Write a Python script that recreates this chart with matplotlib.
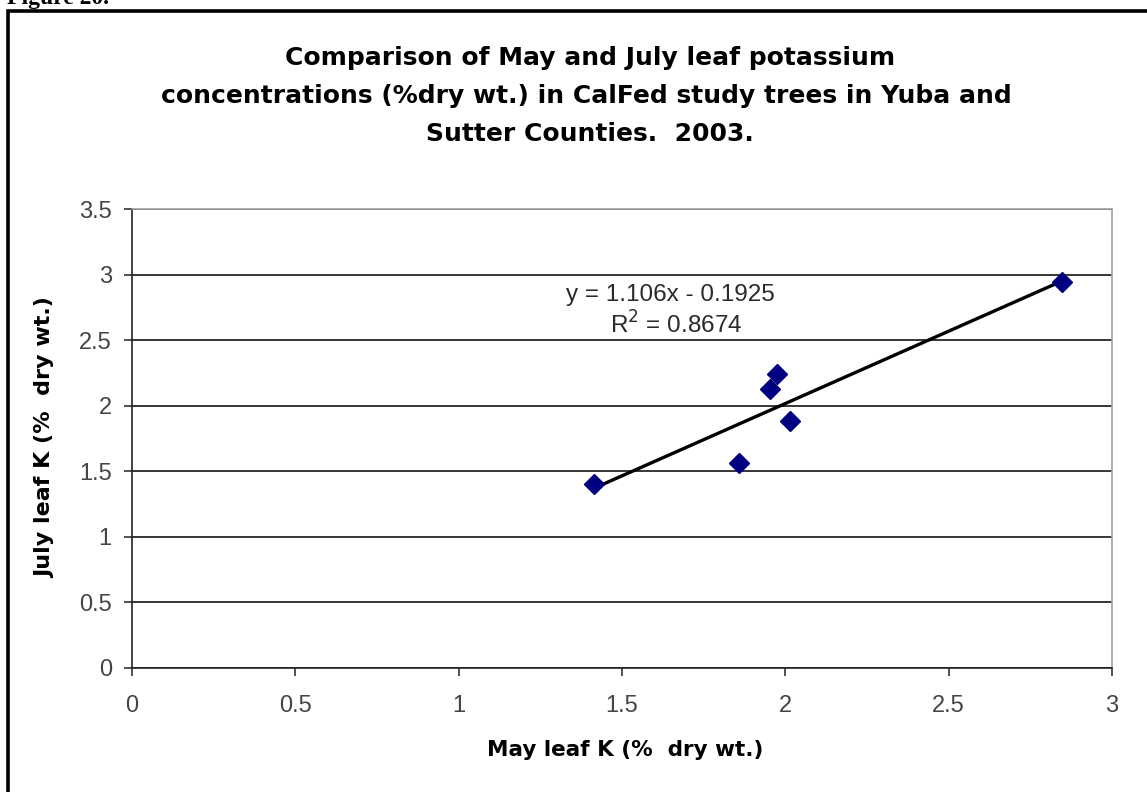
import numpy as np
import matplotlib
matplotlib.use("Agg")
import matplotlib.pyplot as plt
from matplotlib.patches import Rectangle

# Data
may_k = [1.414, 1.858, 1.953, 1.974, 2.014, 2.847]
july_k = [1.404, 1.564, 2.128, 2.243, 1.884, 2.944]
x_ticks = [0, 0.5, 1, 1.5, 2, 2.5, 3]
y_ticks = [0, 0.5, 1, 1.5, 2, 2.5, 3, 3.5]
x_tick_labels = ["0", "0.5", "1", "1.5", "2", "2.5", "3"]
y_tick_labels = ["0", "0.5", "1", "1.5", "2", "2.5", "3", "3.5"]
eq_text = "y = 1.106x - 0.1925"
r2_text = "R$^2$ = 0.8674"
title_lines = ["Comparison of May and July leaf potassium",
               "concentrations (%dry wt.) in CalFed study trees in Yuba and",
               "Sutter Counties.  2003."]

W, H = 1147, 792
fig = plt.figure(figsize=(W / 100, H / 100), dpi=100)
fig.patch.set_facecolor("white")

# Outer frame (extends past right and bottom edges)
fig.patches.append(Rectangle((8 / W, -0.05), 1.2, 1 - 11 / H + 0.05,
                             transform=fig.transFigure, fill=False,
                             edgecolor="black", linewidth=2.6, zorder=0))
fig.text(7 / W, 1 - 4 / H, "Figure 20.", fontsize=17, fontweight="bold",
         family="Liberation Serif", ha="left", va="baseline")

ax = fig.add_axes([132 / W, 1 - 668 / H, (1112 - 132) / W, (668 - 209) / H])
ax.set_xlim(0, 3)
ax.set_ylim(0, 3.5)
ax.set_xticks(x_ticks)
ax.set_xticklabels(x_tick_labels)
ax.set_yticks(y_ticks)
ax.set_yticklabels(y_tick_labels)
ax.grid(axis="y", color="black", linewidth=1.1)
ax.set_axisbelow(True)
for s in ["top", "right"]:
    ax.spines[s].set_color("#a0a0a0")
    ax.spines[s].set_linewidth(1.2)
for s in ["left", "bottom"]:
    ax.spines[s].set_color("#222222")
    ax.spines[s].set_linewidth(1.2)
ax.tick_params(axis="both", direction="out", length=5.5, width=1.1,
               color="#222222", labelsize=17, labelcolor="#444444")
ax.tick_params(axis="x", pad=14)
ax.tick_params(axis="y", pad=9)
for lbl in ax.get_xticklabels() + ax.get_yticklabels():
    lbl.set_family("Liberation Sans")

# Trend line from linear fit
coef = np.polyfit(may_k, july_k, 1)
xs = np.array([min(may_k), max(may_k)])
ax.plot(xs, np.polyval(coef, xs), color="black", linewidth=2.4, zorder=2)
ax.plot(may_k, july_k, linestyle="none", marker="D", markersize=10,
        color="#000080", zorder=3, clip_on=False)

ax.text((670 - 132) / 980 * 3, (668 - 295) / 459 * 3.5, eq_text,
        fontsize=17.5, family="Liberation Sans",
        ha="center", va="center", color="#2a2a2a")
ax.text((676 - 132) / 980 * 3, (668 - 325) / 459 * 3.5, r2_text,
        fontsize=17.5, family="Liberation Sans",
        ha="center", va="center", color="#2a2a2a")

ax.set_xlabel("May leaf K (%  dry wt.)", fontsize=15.5, fontweight="bold",
              family="DejaVu Sans")
ax.set_ylabel("July leaf K (%  dry wt.)", fontsize=16, fontweight="bold",
              family="DejaVu Sans")
ax.xaxis.label.set_va("center")
ax.yaxis.label.set_va("center")
ax.xaxis.set_label_coords((625 - 132) / 980, (668 - 750) / 459)
ax.yaxis.set_label_coords((45 - 132) / 980, (668 - 438) / 459)

for line, (cx, cy) in zip(title_lines, [(590, 58), (586, 96), (590, 134)]):
    fig.text(cx / W, 1 - cy / H, line, fontsize=18, fontweight="bold",
             family="DejaVu Sans", ha="center", va="center")

fig.savefig("out.png", dpi=100, facecolor="white")
